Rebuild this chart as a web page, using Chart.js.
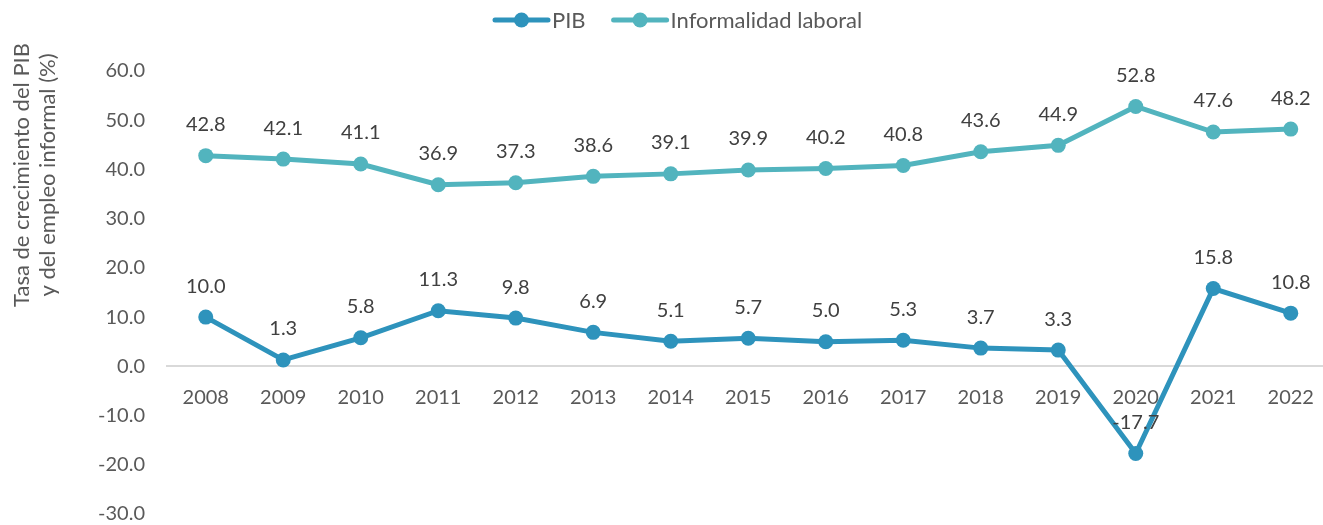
<!DOCTYPE html>
<html>
<head>
<meta charset="utf-8">
<script src="https://cdn.jsdelivr.net/npm/chart.js@4.4.1/dist/chart.umd.min.js"></script>
<style>
  html, body { margin: 0; padding: 0; background: #fff; overflow: hidden; }
  canvas { display: block; }
</style>
</head>
<body>
<canvas id="chart" width="1337" height="548"></canvas>
<script>
// Series data
const years = ['2008', '2009', '2010', '2011', '2012', '2013', '2014', '2015', '2016', '2017', '2018', '2019', '2020', '2021', '2022'];
const pib = [10.0, 1.3, 5.8, 11.3, 9.8, 6.9, 5.1, 5.7, 5.0, 5.3, 3.7, 3.3, -17.7, 15.8, 10.8];
const informalidad = [42.8, 42.1, 41.1, 36.9, 37.3, 38.6, 39.1, 39.9, 40.2, 40.8, 43.6, 44.9, 52.8, 47.6, 48.2];
const yTitle = ['Tasa de crecimiento del PIB', 'y del empleo informal (%)'];

const FONT = 'Lato, "Open Sans", sans-serif';
const colorPib = '#2e93bc';
const colorInf = '#52b4be';

// value labels above each point
const valueLabels = {
    id: 'valueLabels',
    afterDatasetsDraw(chart) {
        const ctx = chart.ctx;
        ctx.save();
        ctx.font = '20px ' + FONT;
        ctx.fillStyle = '#404040';
        ctx.textAlign = 'center';
        ctx.textBaseline = 'middle';
        chart.data.datasets.forEach((ds, i) => {
            chart.getDatasetMeta(i).data.forEach((pt, j) => {
                ctx.fillText(ds.data[j].toFixed(1), pt.x, pt.y - 31);
            });
        });
        ctx.restore();
    }
};

// legend with line + marker swatches, plus the two-line axis title
const extras = {
    id: 'extras',
    afterDraw(chart) {
        const ctx = chart.ctx;
        ctx.save();
        ctx.font = '22px ' + FONT;
        ctx.textBaseline = 'middle';
        const swatch = 53, gap = 4, spacing = 28;
        let x = 495;
        const y = 20;
        chart.data.datasets.forEach(ds => {
            const color = ds.borderColor;
            ctx.strokeStyle = color;
            ctx.lineWidth = 5;
            ctx.lineCap = 'round';
            ctx.beginPath();
            ctx.moveTo(x, y);
            ctx.lineTo(x + swatch, y);
            ctx.stroke();
            ctx.fillStyle = color;
            ctx.beginPath();
            ctx.arc(x + swatch / 2, y, 7.5, 0, Math.PI * 2);
            ctx.fill();
            ctx.fillStyle = '#595959';
            ctx.textAlign = 'left';
            ctx.fillText(ds.label, x + swatch + gap, y + 1);
            x += swatch + gap + ctx.measureText(ds.label).width + spacing;
        });

        ctx.font = '22px ' + FONT;
        ctx.translate(0, 175);
        ctx.rotate(-Math.PI / 2);
        ctx.textAlign = 'center';
        ctx.fillStyle = '#595959';
        ctx.fillText(yTitle[0], 0, 22);
        ctx.fillText(yTitle[1], 0, 48);
        ctx.restore();
    }
};

new Chart(document.getElementById('chart'), {
    type: 'line',
    data: {
        labels: years,
        datasets: [{
            label: 'PIB',
            data: pib,
            borderColor: colorPib,
            backgroundColor: colorPib,
            borderWidth: 5,
            pointRadius: 7.5,
            pointBorderWidth: 0,
            pointBackgroundColor: colorPib,
            tension: 0
        }, {
            label: 'Informalidad laboral',
            data: informalidad,
            borderColor: colorInf,
            backgroundColor: colorInf,
            borderWidth: 5,
            pointRadius: 7.5,
            pointBorderWidth: 0,
            pointBackgroundColor: colorInf,
            tension: 0
        }]
    },
    options: {
        responsive: false,
        animation: false,
        devicePixelRatio: 1,
        layout: {
            padding: { top: 71, left: 0, right: 1, bottom: 11 }
        },
        plugins: {
            legend: { display: false },
            tooltip: { enabled: false }
        },
        scales: {
            x: {
                position: { y: 0 },
                offset: true,
                grid: { display: false, drawTicks: false },
                border: { display: true, color: '#d9d9d9', width: 2 },
                ticks: {
                    padding: 19,
                    color: '#595959',
                    font: { family: FONT, size: 20 },
                    maxRotation: 0,
                    autoSkip: false
                }
            },
            y: {
                min: -30,
                max: 60,
                grid: { display: false, drawTicks: false },
                border: { display: false },
                afterFit: function(scale) { scale.width = 167; },
                ticks: {
                    stepSize: 10,
                    padding: 22,
                    color: '#595959',
                    font: { family: FONT, size: 20 },
                    callback: function(value) { return value.toFixed(1); }
                }
            }
        }
    },
    plugins: [valueLabels, extras]
});
</script>
</body>
</html>
